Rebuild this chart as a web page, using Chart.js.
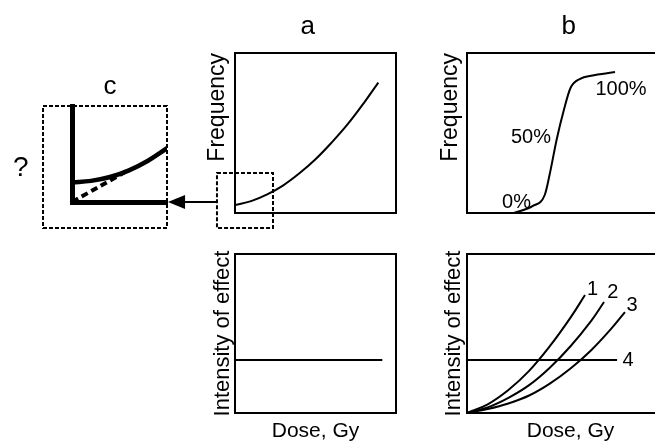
<!DOCTYPE html>
<html>
<head>
<meta charset="utf-8">
<script src="https://cdn.jsdelivr.net/npm/chart.js@4.4.0/dist/chart.umd.min.js"></script>
<style>
  html, body { margin: 0; padding: 0; background: #fff; overflow: hidden; }
  #wrap { position: relative; width: 655px; height: 445px; overflow: hidden; }
  canvas { position: absolute; left: 0; top: 0; }
</style>
</head>
<body>
<div id="wrap">
  <canvas id="aTop" width="655" height="445"></canvas>
  <canvas id="aBot" width="655" height="445"></canvas>
  <canvas id="bTop" width="680" height="445"></canvas>
  <canvas id="bBot" width="680" height="445"></canvas>
  <canvas id="cIns" width="655" height="445"></canvas>
</div>
<script>
// a, top: frequency grows with dose (no threshold)
const aFreqDose = [0, 1, 2, 3, 4, 5, 6, 7, 8, 8.9]
const aFreqValue = [0.5, 0.74, 1.16, 1.73, 2.48, 3.36, 4.4, 5.55, 6.87, 8.15]
// a, bottom: intensity does not depend on dose
const aEffectDose = [0, 9.15]
const aEffectValue = [3.33, 3.33]
// b, top: sigmoid frequency
const bFreqDose = [2.27, 3.18, 3.76, 4.0, 4.34, 4.67, 5.0, 5.49, 5.99, 7.15]
const bFreqValue = [0, 0.44, 1.14, 2.45, 4.64, 6.39, 7.81, 8.4, 8.58, 8.81]
const bFreqLabels = ['0%', '50%', '100%']
const bFreqLabelDose = [2.39, 3.09, 7.44]
const bFreqLabelValue = [0.63, 4.75, 7.69]
// b, bottom: intensity curves 1-3 and level 4
const bCurve1Dose = [0, 1, 2, 3, 4, 5, 5.7]
const bCurve1Value = [0, 0.55, 1.45, 2.65, 4.2, 6.0, 7.42]
const bCurve2Dose = [0, 1, 2, 3, 4, 5, 6, 6.62]
const bCurve2Value = [0, 0.35, 0.95, 1.75, 2.85, 4.2, 5.8, 6.98]
const bCurve3Dose = [0, 1, 2, 3, 4, 5, 6, 7, 7.63]
const bCurve3Value = [0, 0.25, 0.6, 1.1, 1.85, 2.8, 3.95, 5.35, 6.35]
const bLine4Dose = [0, 7.25]
const bLine4Value = [3.33, 3.33]
const bEffectLabels = ['1', '2', '3', '4']
const bEffectLabelDose = [6.07, 7.05, 7.97, 7.78]
const bEffectLabelValue = [7.74, 7.55, 6.79, 3.33]
// c, inset: low-dose region
const cCurveDose = [0, 2, 4, 6, 8, 10]
const cCurveValue = [2.05, 2.2, 2.6, 3.3, 4.3, 5.6]
const cLinearDose = [0, 5.9]
const cLinearValue = [0, 3.3]

const FONT = "'Liberation Sans', Arial, Helvetica, sans-serif"
const pts = (xs, ys) => xs.map((x, i) => ({ x, y: ys[i] }))

const line = (xs, ys, extra) => Object.assign({
  data: pts(xs, ys),
  showLine: true,
  borderColor: '#000',
  borderWidth: 2,
  pointRadius: 0,
  fill: false,
  tension: 0.4,
}, extra)

const frame = {
  id: 'frame',
  afterDatasetsDraw(chart) {
    const { ctx, chartArea: a } = chart
    ctx.save()
    ctx.lineWidth = 2
    ctx.strokeStyle = '#000'
    ctx.strokeRect(a.left, a.top, a.right - a.left, a.bottom - a.top)
    ctx.restore()
  }
}

// text placed at data coordinates
const notes = items => ({
  id: 'notes',
  afterDraw(chart) {
    const { ctx, scales: { x, y } } = chart
    ctx.save()
    ctx.fillStyle = '#000'
    ctx.textAlign = 'center'
    ctx.textBaseline = 'middle'
    items.forEach(n => {
      ctx.font = `${n.size}px ${FONT}`
      ctx.fillText(n.text, x.getPixelForValue(n.x), y.getPixelForValue(n.y))
    })
    ctx.restore()
  }
})

// dashed zoom box and arrow
const marks = (boxes, arrow) => ({
  id: 'marks',
  afterDraw(chart) {
    const { ctx, scales: { x, y } } = chart
    ctx.save()
    ctx.strokeStyle = '#000'
    ctx.fillStyle = '#000'
    ctx.lineWidth = 2
    ctx.setLineDash([4, 2])
    boxes.forEach(b => {
      const x0 = x.getPixelForValue(b[0]), y0 = y.getPixelForValue(b[1])
      const x1 = x.getPixelForValue(b[2]), y1 = y.getPixelForValue(b[3])
      ctx.strokeRect(x0, y0, x1 - x0, y1 - y0)
    })
    ctx.setLineDash([])
    if (arrow) {
      const yy = y.getPixelForValue(arrow.y)
      const xs = x.getPixelForValue(arrow.from)
      const xb = x.getPixelForValue(arrow.base)
      const xt = x.getPixelForValue(arrow.tip)
      ctx.beginPath()
      ctx.moveTo(xs, yy)
      ctx.lineTo(xb, yy)
      ctx.stroke()
      ctx.beginPath()
      ctx.moveTo(xt, yy)
      ctx.lineTo(xb, yy - 7)
      ctx.lineTo(xb, yy + 7)
      ctx.closePath()
      ctx.fill()
    }
    ctx.restore()
  }
})

const axisTitle = (text, size, padding, align) => ({
  display: true,
  text,
  align: align || 'center',
  color: '#000',
  font: { family: FONT, size },
  padding,
})

const hiddenBits = {
  ticks: { display: false },
  grid: { display: false, drawTicks: false },
  border: { display: false },
}

function panel(id, datasets, pad, yTitle, xTitle, plugins) {
  return new Chart(id, {
    type: 'scatter',
    data: { datasets },
    options: {
      responsive: false,
      animation: false,
      devicePixelRatio: 1,
      events: [],
      layout: { padding: pad },
      plugins: { legend: { display: false }, tooltip: { enabled: false } },
      scales: {
        x: Object.assign({ type: 'linear', min: 0, max: 10, display: !!xTitle,
          title: xTitle ? axisTitle(xTitle, 21, { top: 6, bottom: 0 }) : { display: false } }, hiddenBits),
        y: Object.assign({ type: 'linear', min: 0, max: 10, title: yTitle }, hiddenBits),
      },
    },
    plugins,
  })
}

panel('aTop', [line(aFreqDose, aFreqValue)],
  { left: 203.7, right: 259, top: 53, bottom: 232 },
  axisTitle('Frequency', 23, { top: 0, bottom: 3.7 }, 'end'), null,
  [frame, notes([{ text: 'a', x: 4.51, y: 11.64, size: 26 }]),
   marks([[-1.12, 2.5, 2.36, -0.94]], null)])

panel('aBot', [line(aEffectDose, aEffectValue)],
  { left: 209.6, right: 259, top: 254, bottom: 0.8 },
  axisTitle('Intensity of effect', 22, { top: 0, bottom: -1 }), 'Dose, Gy',
  [frame])

panel('bTop', [line(bFreqDose, bFreqValue, { tension: 0, cubicInterpolationMode: 'monotone' })],
  { left: 437.2, right: 6, top: 53, bottom: 232 },
  axisTitle('Frequency', 23, { top: 0, bottom: 2.2 }, 'end'), null,
  [frame, notes([{ text: 'b', x: 4.91, y: 11.64, size: 26 }]
    .concat(bFreqLabels.map((t, i) => ({ text: t, x: bFreqLabelDose[i], y: bFreqLabelValue[i], size: 20 }))))])

panel('bBot', [
    line(bCurve1Dose, bCurve1Value),
    line(bCurve2Dose, bCurve2Value),
    line(bCurve3Dose, bCurve3Value),
    line(bLine4Dose, bLine4Value),
  ],
  { left: 440.6, right: 6, top: 254, bottom: 0.8 },
  axisTitle('Intensity of effect', 22, { top: 0, bottom: 0 }), 'Dose, Gy',
  [frame, notes(bEffectLabels.map((t, i) => ({ text: t, x: bEffectLabelDose[i], y: bEffectLabelValue[i], size: 20 })))])

// inset c: thick axes, no frame
new Chart('cIns', {
  type: 'scatter',
  data: {
    datasets: [
      line(cCurveDose, cCurveValue, { borderWidth: 4.5 }),
      line(cLinearDose, cLinearValue, { borderWidth: 4, borderDash: [7, 4] }),
    ]
  },
  options: {
    responsive: false,
    animation: false,
    devicePixelRatio: 1,
    events: [],
    layout: { padding: { left: 72, right: 488, top: 106, bottom: 243 } },
    plugins: { legend: { display: false }, tooltip: { enabled: false } },
    scales: {
      x: { type: 'linear', min: 0, max: 10, ticks: { display: false },
        grid: { display: false, drawTicks: false }, border: { display: true, width: 5, color: '#000' } },
      y: { type: 'linear', min: 0, max: 10, ticks: { display: false },
        grid: { display: false, drawTicks: false }, border: { display: true, width: 5, color: '#000' } },
    },
  },
  plugins: [
    notes([{ text: 'c', x: 4.0, y: 11.98, size: 26 }, { text: '?', x: -5.4, y: 3.54, size: 28 }]),
    marks([[-3.05, 10, 10, -2.71]], { y: 0, from: 15.26, base: 11.9, tip: 10.1 }),
  ],
})
</script>
</body>
</html>
